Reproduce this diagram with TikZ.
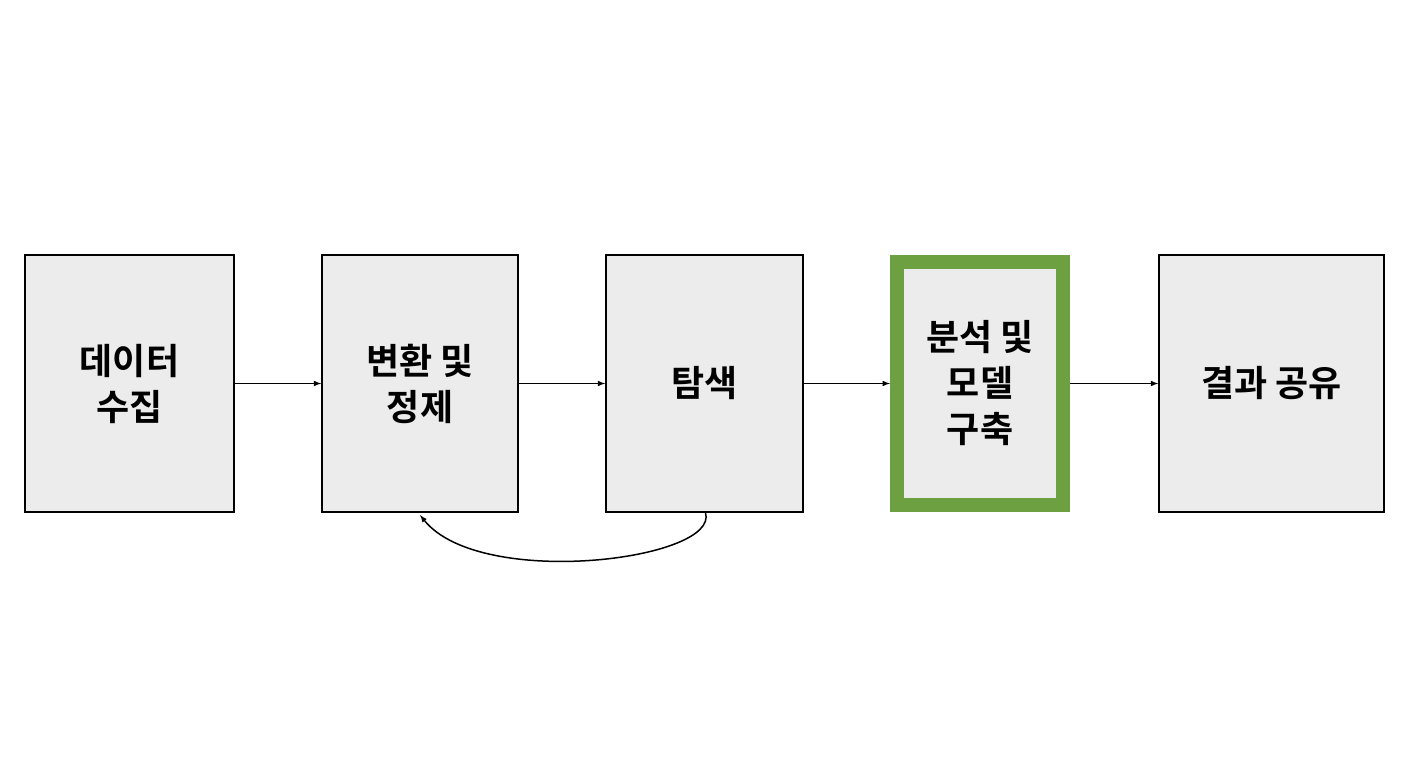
\documentclass[tikz,border=0pt]{standalone}
\usepackage{fontspec}
\newfontfamily\kr{Noto Sans CJK KR}[BoldFont={* Bold}]
\begin{document}
\begin{tikzpicture}[x=1pt,y=-1pt,
 box/.style={draw=black,line width=1.5pt,fill=gray!15,inner sep=0pt,align=center,font=\kr\bfseries\fontsize{36}{46}\selectfont},
 arr/.style={-latex,line width=1.5pt}]
\useasboundingbox[fill=white] (0,0) rectangle (1408,768);
\node[box,minimum width=209,minimum height=257] (a) at (129.5,383.5) {데이터\\수집};
\node[box,minimum width=196,minimum height=257] (b) at (420,383.5) {변환 및\\정제};
\node[box,minimum width=197,minimum height=257] (c) at (704.5,383.5) {탐색};
\node[box,draw=green!50!black!70!lime,draw={rgb,255:red,108;green,160;blue,64},line width=14pt,minimum width=166,minimum height=243] (d) at (980,383.5) {분석 및\\모델\\구축};
\node[box,minimum width=225,minimum height=257] (e) at (1271.5,383.5) {결과 공유};
\draw[arr] (a) -- (b);
\draw[arr] (b) -- (c);
\draw[arr] (c) -- (d.west);
\draw[arr] (d.east) -- (e);
\draw[arr] (c.south) ++(1,0) coordinate (cs) .. controls (720,560) and (480,590) .. (420,515);
\end{tikzpicture}
\end{document}
